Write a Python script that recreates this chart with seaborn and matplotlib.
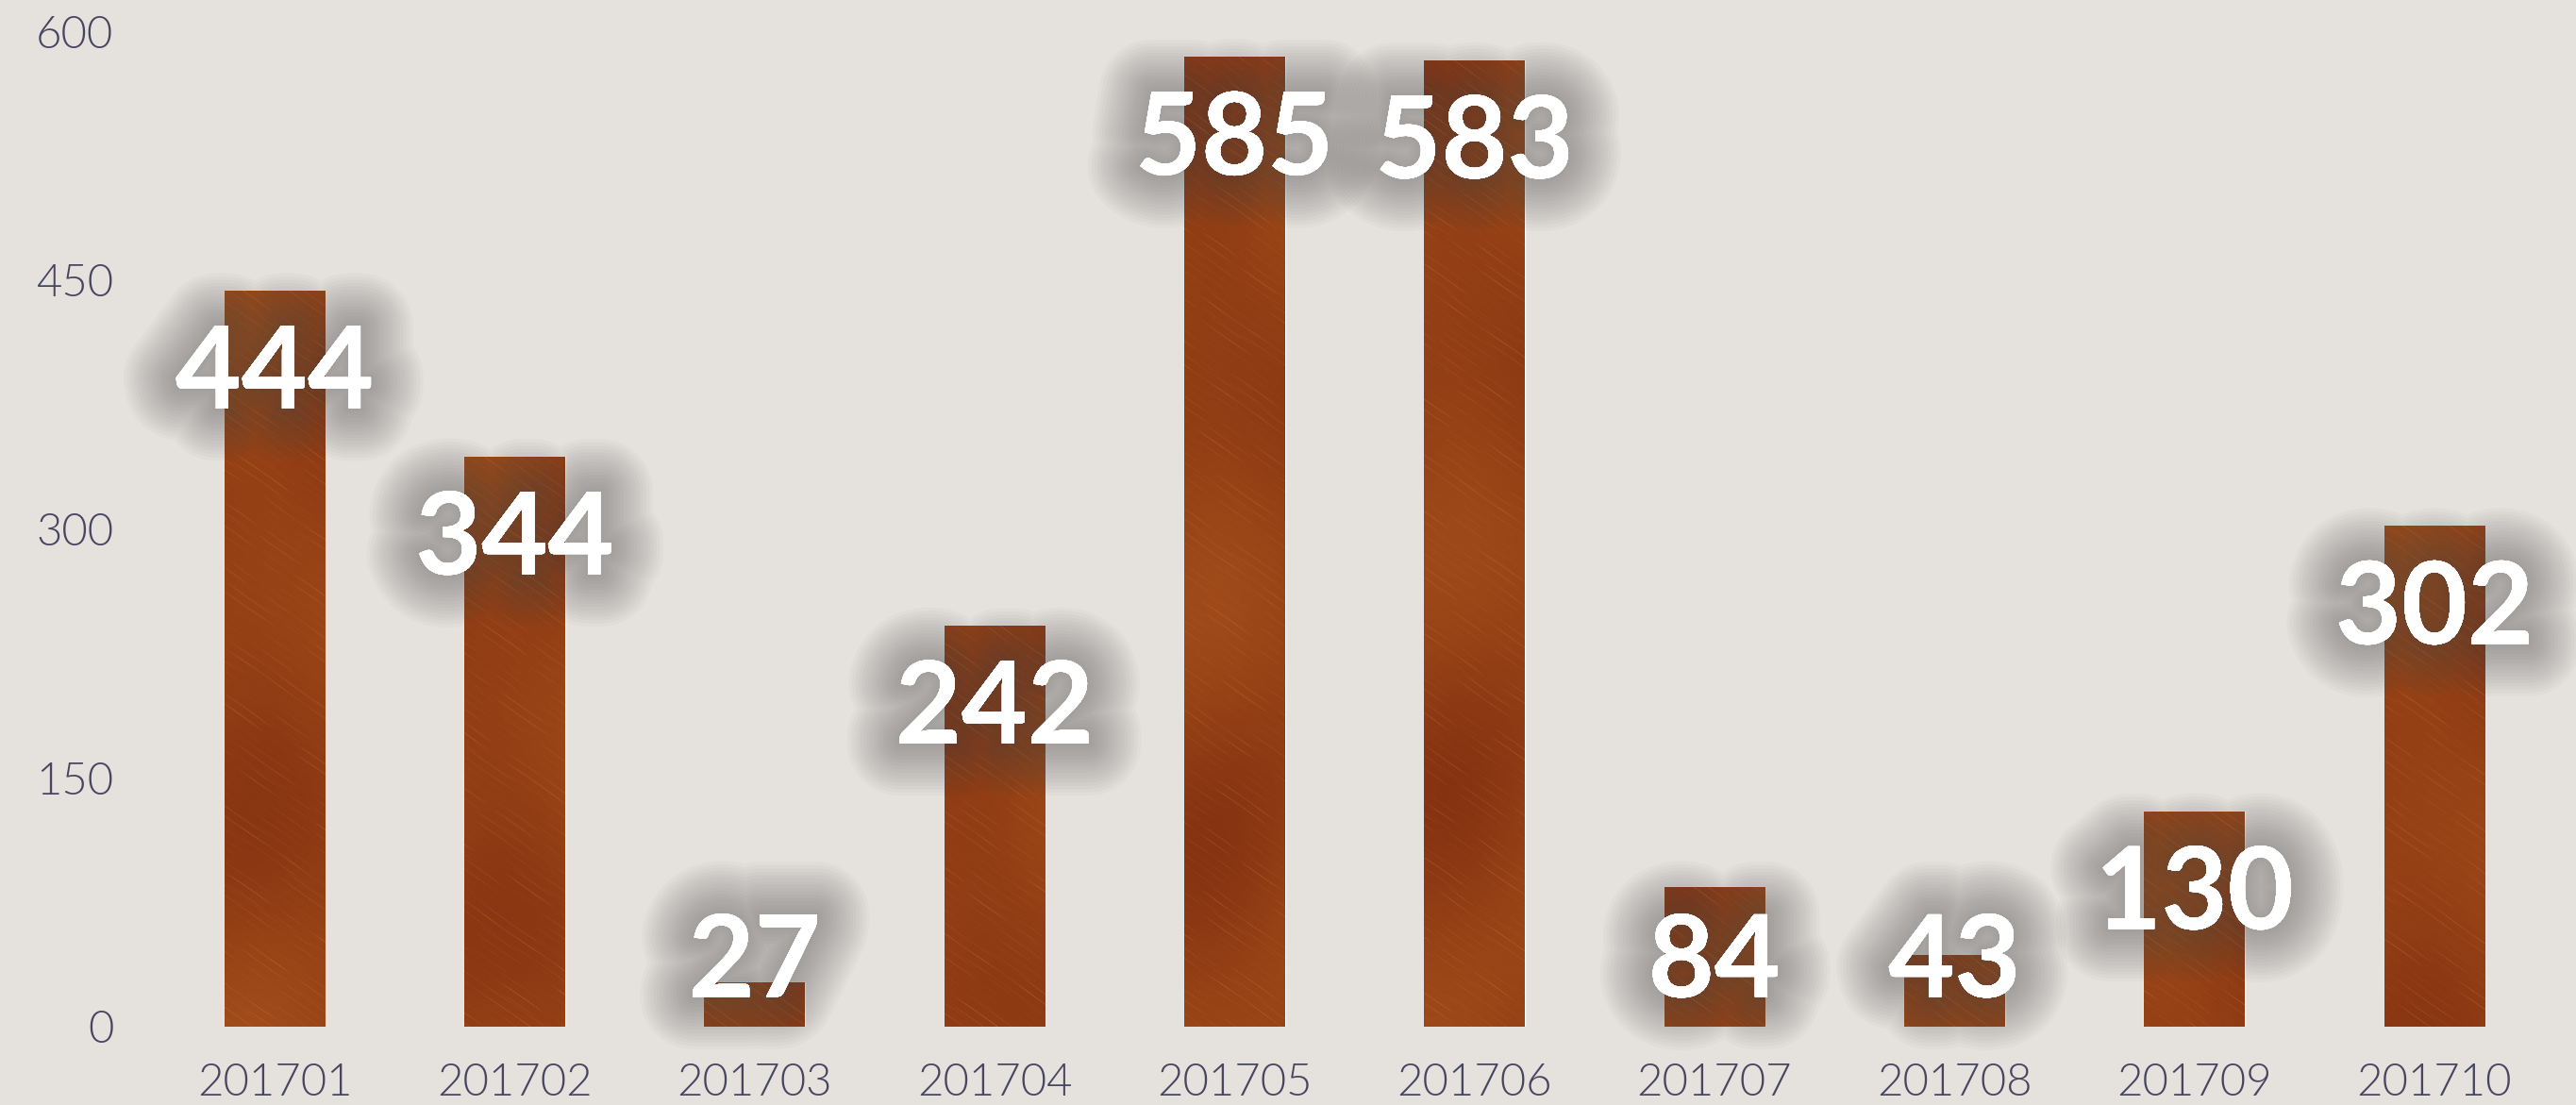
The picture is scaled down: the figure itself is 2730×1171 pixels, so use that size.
import numpy as np
import pandas as pd
import matplotlib
matplotlib.use("Agg")
import matplotlib.pyplot as plt
import matplotlib.patheffects as pe
import seaborn as sns

# ---- data ----
months = ["201701", "201702", "201703", "201704", "201705",
          "201706", "201707", "201708", "201709", "201710"]
values = [444, 344, 27, 242, 585, 583, 84, 43, 130, 302]
y_ticks = [0, 150, 300, 450, 600]

df = pd.DataFrame({"month": months, "value": values})

BG = "#e5e1dd"
TICK_COLOR = "#474560"
BASE_COPPER = "#99461a"

sns.set_theme(style="white")
plt.rcParams["font.family"] = ["Lato", "DejaVu Sans"]

W, H, DPI = 2730, 1171, 100
fig = plt.figure(figsize=(W / DPI, H / DPI), dpi=DPI, facecolor=BG)
ax = fig.add_axes([141 / W, 83 / H, 1 - 141 / W, (1171 - 83 - 34) / H])
ax.set_facecolor(BG)

sns.barplot(data=df, x="month", y="value", color=BASE_COPPER, width=0.42,
            saturation=1, ax=ax, zorder=2)

ax.set_xlim(-0.59, 9.59)
ax.set_ylim(0, 600)
ax.set_yticks(y_ticks)
ax.set_xlabel("")
ax.set_ylabel("")
for s in ax.spines.values():
    s.set_visible(False)
ax.tick_params(axis="both", length=0)
ax.tick_params(axis="y", pad=15)
ax.tick_params(axis="x", pad=28)
for lab in ax.get_xticklabels() + ax.get_yticklabels():
    lab.set_fontweight(300)
    lab.set_fontsize(34)
    lab.set_color(TICK_COLOR)
ax.grid(False)


# ---- copper brushed texture (style only) ----
def copper_texture(h, w, shift=0.0):
    yy, xx = np.mgrid[0:h, 0:w].astype(float)
    s = yy - 0.7 * xx  # diagonal streak coordinate
    streak = (np.sin(s * 0.9 + 1.3 + shift) * np.sin(s * 0.37 + 0.4)
              + 0.6 * np.sin(s * 2.3 + 2.1 * np.sin(xx * 0.05 + yy * 0.03))
              + 0.5 * np.sin(s * 1.7 + 0.8 * np.sin((xx + yy) * 0.02)))
    streak = np.clip(streak - 0.6, 0, None) ** 2 * 0.25
    blotch = (np.sin(yy * 0.009 + 0.5 + shift) * np.sin(xx * 0.02 + 1.1)
              + 0.7 * np.sin((xx * 0.5 + yy) * 0.015 + 2.0 + shift))
    blotch = blotch / 1.7
    base = np.array([162, 76, 26]) / 255.0
    dark = np.array([130, 48, 16]) / 255.0
    light = np.array([198, 120, 58]) / 255.0
    t = np.clip(0.55 + 0.45 * blotch, 0, 1)[..., None]
    img = dark * (1 - t) + base * t
    k = np.clip(streak, 0, 0.8)[..., None]
    img = img * (1 - k) + light * k
    return np.clip(img, 0, 1)


px_per_unit = (1171 - 83 - 34) / 600.0
for i, patch in enumerate(ax.patches):
    x0 = patch.get_x()
    w = patch.get_width()
    h = patch.get_height()
    hp = max(int(h * px_per_unit), 2)
    tex = copper_texture(hp, 107, shift=i * 0.7)
    im = ax.imshow(tex, extent=(x0, x0 + w, 0, h), aspect="auto",
                   origin="upper", zorder=3, interpolation="bilinear")
    im.set_clip_path(patch)

ax.set_xlim(-0.59, 9.59)
ax.set_ylim(0, 600)

# ---- value labels with soft shadow ----
shadow = []
for lw in range(80, 0, -5):
    shadow.append(pe.withStroke(linewidth=lw, foreground=(0.3, 0.3, 0.3, 0.03)))
shadow.append(pe.Normal())

for i, v in enumerate(values):
    yb = max(v - 71, 18)
    ax.text(i, yb, str(v), ha="center", va="baseline", fontsize=87,
            fontweight="bold", color="white", zorder=5, path_effects=shadow)

fig.savefig("out.png", dpi=DPI, facecolor=BG)
